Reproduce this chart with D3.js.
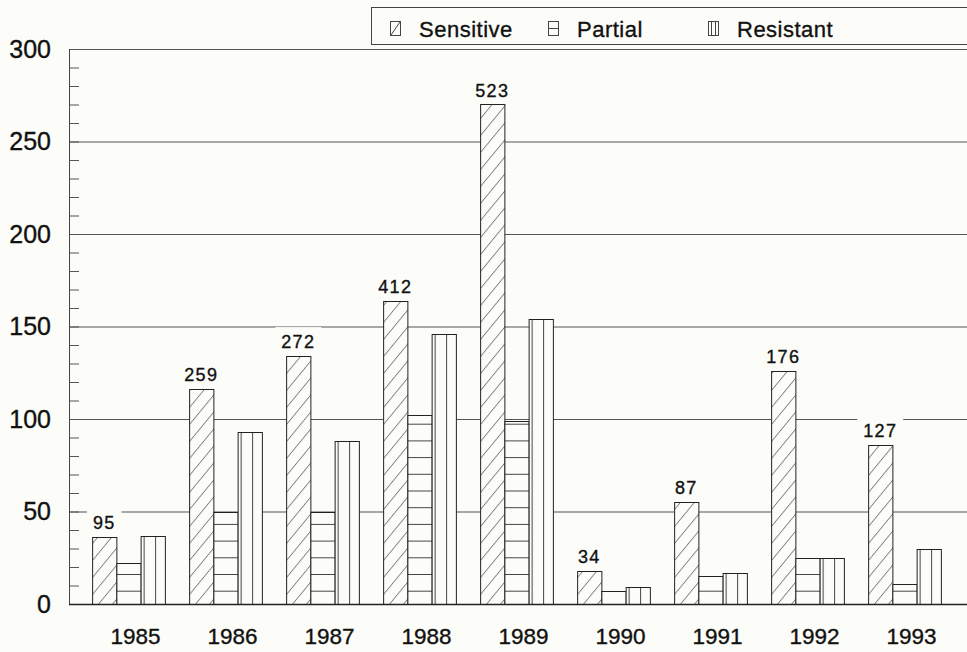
<!DOCTYPE html>
<html>
<head>
<meta charset="utf-8">
<script src="https://cdn.jsdelivr.net/npm/d3@7"></script>
<style>
  body { margin: 0; background: #fcfcf8; }
  text { font-family: "Liberation Sans", Arial, sans-serif; fill: #111; stroke: #111; stroke-width: 0.35px; }
</style>
</head>
<body>
<svg id="chart" width="967" height="652"></svg>
<script>
// data
var years = ["1985", "1986", "1987", "1988", "1989", "1990", "1991", "1992", "1993"];
var seriesNames = ["Sensitive", "Partial", "Resistant"];
var sensitive = [36, 116, 134, 164, 270, 18, 55, 126, 86];
var partial = [22, 50, 50, 102, 99, 7, 15, 25, 11];
var resistant = [37, 93, 88, 146, 154, 9, 17, 25, 30];
var totals = ["95", "259", "272", "412", "523", "34", "87", "176", "127"];
var yTicks = [0, 50, 100, 150, 200, 250, 300];

var bg = "#fcfcf8";
var ink = "#222";
var left = 69, right = 967;

var svg = d3.select("#chart");

var x0 = d3.scaleBand().domain(years).range([80, 953]).paddingInner(0.25).paddingOuter(0.125);
var x1 = d3.scaleBand().domain(seriesNames).range([0, x0.bandwidth()]);
var y = d3.scaleLinear().domain([0, 300]).range([604, 49]);

// fill patterns, white underneath so bars hide the grid
var defs = svg.append("defs");
var hatch = defs.append("pattern").attr("id", "p-sens")
    .attr("patternUnits", "userSpaceOnUse").attr("width", 14).attr("height", 17);
hatch.append("rect").attr("width", 14).attr("height", 17).attr("fill", bg);
hatch.append("path").attr("d", "M0,17L14,0M-7,8.5L7,-8.5M7,25.5L21,8.5")
    .attr("stroke", "#444").attr("stroke-width", 0.8);

var hlines = defs.append("pattern").attr("id", "p-part")
    .attr("patternUnits", "userSpaceOnUse").attr("width", 20).attr("height", 16.7)
    .attr("y", y(0) - 13.3);
hlines.append("rect").attr("width", 20).attr("height", 16.7).attr("fill", bg);
hlines.append("line").attr("x1", 0).attr("x2", 20).attr("y1", 0.5).attr("y2", 0.5)
    .attr("stroke", "#444").attr("stroke-width", 1);

var vlines = defs.append("pattern").attr("id", "p-res")
    .attr("patternUnits", "userSpaceOnUse").attr("width", 11.5).attr("height", 20)
    .attr("x", 247);
vlines.append("rect").attr("width", 11.5).attr("height", 20).attr("fill", bg);
vlines.append("line").attr("x1", 0.5).attr("x2", 0.5).attr("y1", 0).attr("y2", 20)
    .attr("stroke", "#444").attr("stroke-width", 1);

var fills = {Sensitive: "url(#p-sens)", Partial: "url(#p-part)", Resistant: "url(#p-res)"};

// grid lines at the major ticks
svg.append("g")
    .attr("transform", "translate(" + left + ",0)")
    .call(d3.axisLeft(y).tickValues(yTicks.slice(1)).tickSize(-(right - left)).tickFormat(""))
    .call(function (g) {
      g.select(".domain").remove();
      g.selectAll("line").attr("stroke", "#555").attr("stroke-width", 1);
    });

// minor ticks every 10
svg.append("g")
    .attr("transform", "translate(" + left + ",0)")
    .call(d3.axisLeft(y).ticks(30).tickSize(-10).tickFormat(""))
    .call(function (g) {
      g.select(".domain").remove();
      g.selectAll("line").attr("stroke", "#555");
    });

// bars
var rows = years.map(function (yr, i) {
  return {year: yr, total: totals[i], values: [
    {key: "Sensitive", value: sensitive[i]},
    {key: "Partial", value: partial[i]},
    {key: "Resistant", value: resistant[i]}
  ]};
});

var groups = svg.append("g").selectAll("g")
    .data(rows)
    .enter().append("g")
    .attr("transform", function (d) { return "translate(" + x0(d.year) + ",0)"; });

groups.selectAll("rect")
    .data(function (d) { return d.values; })
    .enter().append("rect")
    .attr("x", function (d) { return x1(d.key) + 0.5; })
    .attr("y", function (d) { return Math.round(y(d.value)) + 0.5; })
    .attr("width", x1.bandwidth())
    .attr("height", function (d) { return Math.round(y(0)) - Math.round(y(d.value)); })
    .attr("fill", function (d) { return fills[d.key]; })
    .attr("stroke", ink)
    .attr("stroke-width", 1);

// total labels above the sensitive bar, on a blank patch
var lab = groups.append("g");
var labText = lab.append("text")
    .attr("x", x1("Sensitive") + x1.bandwidth() / 2)
    .attr("y", function (d) { return y(d.values[0].value) - 8; })
    .attr("text-anchor", "middle")
    .style("font-size", "18px")
    .style("letter-spacing", "1.3px")
    .text(function (d) { return d.total; });
labText.each(function (d) {
  var b = this.getBBox();
  d3.select(this.parentNode).insert("rect", "text")
      .attr("x", b.x - 6)
      .attr("y", b.y - 5)
      .attr("width", b.width + 12)
      .attr("height", y(d.values[0].value) - (b.y - 5) - 1)
      .attr("fill", bg);
});

// axis lines
svg.append("line").attr("x1", left + 0.5).attr("x2", left + 0.5)
    .attr("y1", y(300)).attr("y2", y(0))
    .attr("stroke", "#444").attr("stroke-width", 1);
svg.append("line").attr("x1", left).attr("x2", right)
    .attr("y1", Math.round(y(0)) + 0.5).attr("y2", Math.round(y(0)) + 0.5)
    .attr("stroke", ink).attr("stroke-width", 1.3);

// y labels
svg.append("g")
    .attr("transform", "translate(" + left + ",0)")
    .call(d3.axisLeft(y).tickValues(yTicks).tickSize(0).tickPadding(18))
    .call(function (g) {
      g.select(".domain").remove();
      g.selectAll("text").style("font-size", "25px").attr("fill", "#111");
    });

// x labels
svg.append("g")
    .attr("transform", "translate(7," + y(0) + ")")
    .call(d3.axisBottom(x0).tickSize(0).tickPadding(0))
    .call(function (g) {
      g.select(".domain").remove();
      g.selectAll("text").style("font-size", "22.5px").attr("fill", "#111")
          .attr("dy", null).attr("y", 40);
    });

// legend
var legend = svg.append("g");
legend.append("rect")
    .attr("x", 371.5).attr("y", 7.5).attr("width", 640).attr("height", 37)
    .attr("fill", "none").attr("stroke", "#444");
var legendX = [390, 548, 708];
var items = legend.selectAll("g.item")
    .data(seriesNames)
    .enter().append("g")
    .attr("class", "item")
    .attr("transform", function (d, i) { return "translate(" + legendX[i] + ",21)"; });
items.append("rect")
    .attr("x", 0.5).attr("y", 0.5).attr("width", 10).attr("height", 14)
    .attr("fill", bg).attr("stroke", "#444");
items.append("path")
    .attr("d", function (d) {
      if (d === "Sensitive") return "M1,14L10,1";
      if (d === "Partial") return "M0.5,7.5H10.5";
      return "M3.5,0.5V14.5M7.5,0.5V14.5";
    })
    .attr("stroke", "#444").attr("fill", "none");
items.append("text")
    .attr("x", 29).attr("y", 15.5)
    .style("font-size", "22px")
    .style("letter-spacing", "0.5px")
    .text(function (d) { return d; });
</script>
</body>
</html>
